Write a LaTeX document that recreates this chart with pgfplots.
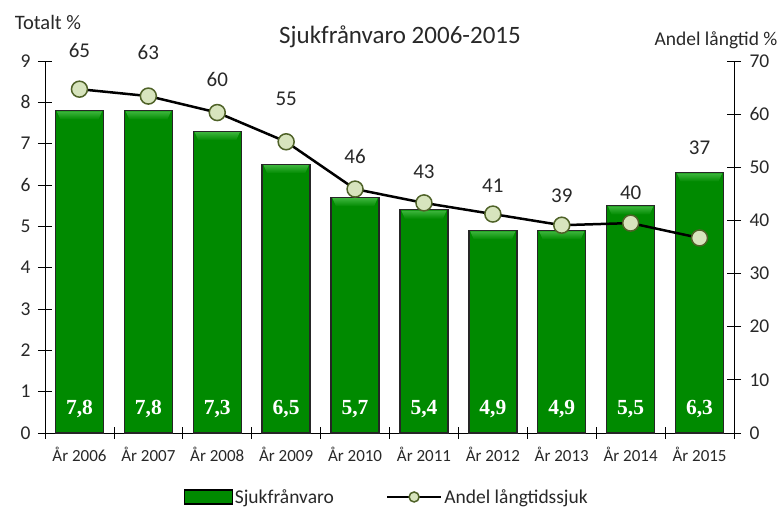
\documentclass[border=0pt]{standalone}
\usepackage{pgfplots}
\pgfplotsset{compat=1.18}
\usepackage{fontspec}
\setmainfont{Carlito}
\newfontfamily\valfont{Liberation Serif}
\definecolor{bardark}{RGB}{0,70,0}
\definecolor{barmid}{RGB}{0,138,0}
\definecolor{bevlight}{RGB}{60,180,60}
\definecolor{mkfill}{RGB}{215,228,189}
\definecolor{mkdraw}{RGB}{79,98,40}
\definecolor{txt}{RGB}{40,40,40}
\pgfdeclarehorizontalshading{barshade}{100bp}{color(0bp)=(bardark); color(10bp)=(barmid); color(90bp)=(barmid); color(100bp)=(bardark)}
\pgfdeclareplotmark{bevel}{%
  \shade[draw=none, top color=bevlight, bottom color=barmid]
    (-22.6pt,-0.8pt) -- (22.6pt,-0.8pt) -- (19pt,-9pt) -- (-19pt,-9pt) -- cycle;}
\pgfplotsset{
  linelegend/.style={legend image code/.code={\draw[mark repeat=2, mark phase=2, ##1, mark size=5pt] plot coordinates {(0pt,0pt) (27pt,0pt) (54pt,0pt)};}},
  onebar/.style={ybar, bar width=48pt, bar shift=0pt, draw=black!85, line width=1.4pt, shading=barshade},
}
\newcommand\onebar[2]{\addplot[onebar] coordinates {(#1,#2)};}
\begin{document}
\begin{tikzpicture}
\begin{axis}[
  scale only axis, width=689pt, height=372pt,
  xmin=-0.5, xmax=9.5, ymin=0, ymax=9,
  axis y line*=left, axis x line*=bottom,
  axis line style={-, black, line width=0.8pt},
  ytick={0,...,9},
  xtick={0,...,9},
  xticklabels={År 2006,År 2007,År 2008,År 2009,År 2010,År 2011,År 2012,År 2013,År 2014,År 2015},
  minor xtick={-0.5,0.5,...,9.5},
  major x tick style={draw=none},
  tick align=center, major tick length=14pt, minor tick length=12pt,
  tick style={black, line width=0.8pt},
  /pgf/number format/assume math mode=true,
  yticklabel style={font=\fontsize{19.5}{19.5}\selectfont, text=txt, xshift=-4pt},
  xticklabel style={font=\fontsize{17}{17}\selectfont, text=txt, yshift=-4pt},
  clip=false,
]
\onebar{0}{7.8}
\onebar{1}{7.8}
\onebar{2}{7.3}
\onebar{3}{6.5}
\onebar{4}{5.7}
\onebar{5}{5.4}
\onebar{6}{4.9}
\onebar{7}{4.9}
\onebar{8}{5.5}
\onebar{9}{6.3}
\addplot[only marks, mark=bevel, mark options={draw=none}]
  coordinates {(0,7.8) (1,7.8) (2,7.3) (3,6.5) (4,5.7) (5,5.4) (6,4.9) (7,4.9) (8,5.5) (9,6.3)};
\addplot[draw=none, mark=none, nodes near coords, point meta=explicit symbolic,
  nodes near coords style={font=\valfont\bfseries\fontsize{21.5}{21.5}\selectfont, text=white, anchor=center}]
  table[meta=l] {
x y l
0 0.58 7,8
1 0.58 7,8
2 0.58 7,3
3 0.58 6,5
4 0.58 5,7
5 0.58 5,4
6 0.58 4,9
7 0.58 4,9
8 0.58 5,5
9 0.58 6,3
};
\end{axis}
\begin{axis}[
  scale only axis, width=689pt, height=372pt,
  xmin=-0.5, xmax=9.5, ymin=0, ymax=70,
  axis y line*=right, axis x line=none,
  axis line style={-, black, line width=0.8pt},
  ytick={0,10,...,70},
  tick align=center, major tick length=14pt,
  tick style={black, line width=0.8pt},
  /pgf/number format/assume math mode=true,
  yticklabel style={font=\fontsize{19.5}{19.5}\selectfont, text=txt, xshift=5pt},
  clip=false,
  legend columns=2,
  legend style={at={(0.496,-0.172)}, anchor=center, draw=none, fill=none,
    font=\fontsize{19.5}{19.5}\selectfont, text=txt,
    /tikz/every even column/.append style={column sep=50pt}},
]
\addlegendimage{legend image code/.code={\draw[draw=black, line width=1.2pt, shading=barshade] (0pt,-7pt) rectangle (48pt,7pt);}}
\addlegendentry{Sjukfrånvaro}
\addplot[black, line width=2.5pt, mark=*, mark size=8pt,
  mark options={fill=mkfill, draw=mkdraw, line width=1.5pt}, linelegend]
  coordinates {(0,64.7) (1,63.4) (2,60.3) (3,54.8) (4,45.9) (5,43.3) (6,41.2) (7,39.1) (8,39.5) (9,36.7)};
\addlegendentry{Andel långtidssjuk}
\addplot[draw=none, mark=none, forget plot, nodes near coords, point meta=explicit symbolic,
  nodes near coords style={font=\fontsize{21}{21}\selectfont, text=txt, anchor=center}]
  table[meta=l] {
x y l
0 72.0 65
1 71.6 63
2 66.6 60
3 62.8 55
4 52.1 46
5 49.1 43
6 46.6 41
7 44.7 39
8 45.3 40
9 53.6 37
};
\end{axis}
\node[font=\fontsize{25}{25}\selectfont, text=txt] at (355pt,396pt) {Sjukfrånvaro 2006-2015};
\node[font=\fontsize{20.5}{20.5}\selectfont, text=txt] at (3pt,411pt) {Totalt \%};
\node[font=\fontsize{19.5}{19.5}\selectfont, text=txt] at (671pt,393pt) {Andel långtid \%};
\pgfresetboundingbox
\useasboundingbox (-45pt,-77pt) rectangle (734pt,433pt);
\end{tikzpicture}
\end{document}
